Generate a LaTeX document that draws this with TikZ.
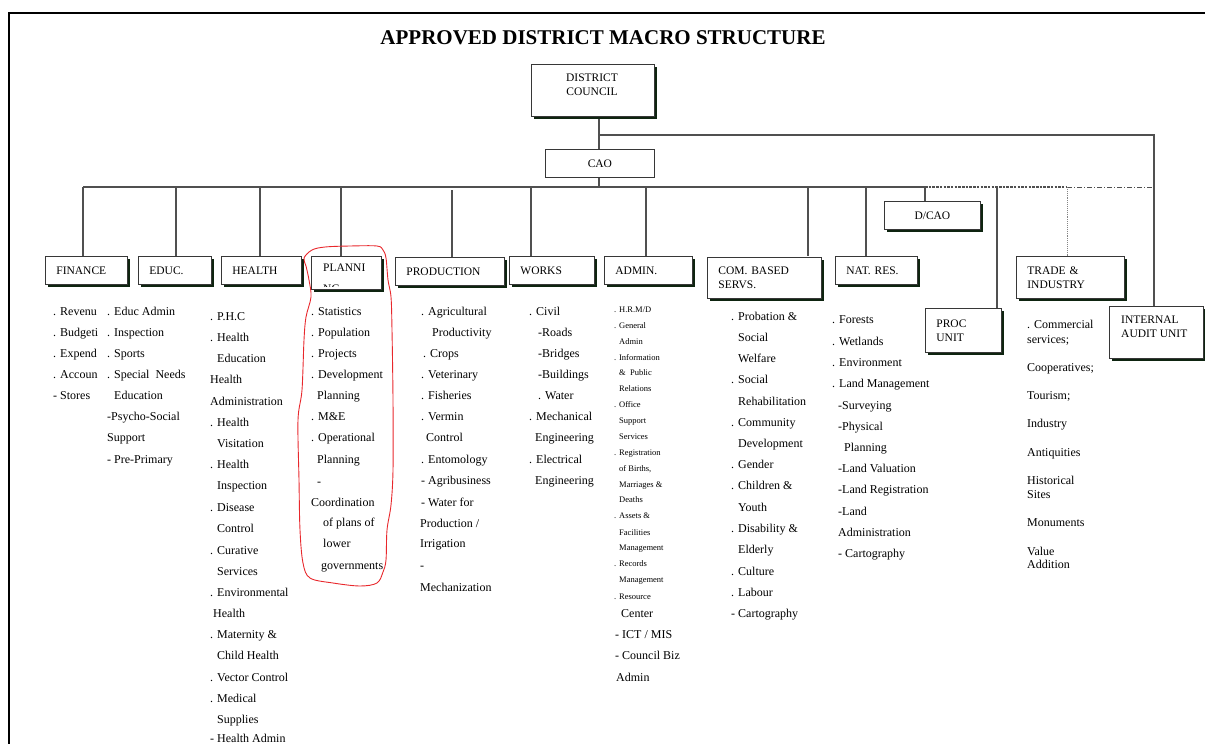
\documentclass[tikz,border=0pt]{standalone}
\usepackage{fontspec}
\setmainfont{Liberation Serif}
\usetikzlibrary{shadows}
\definecolor{shade}{RGB}{14,36,16}
\definecolor{wirecol}{RGB}{80,80,80}
\definecolor{boxline}{RGB}{55,55,55}
\definecolor{pen}{RGB}{232,40,44}
\begin{document}
\begin{tikzpicture}[x=1pt,y=-1pt,
  box/.style={draw=boxline, fill=white, line width=0.8pt, inner xsep=11pt, inner ysep=0pt,
    anchor=north west, align=left, font=\fontsize{11.5}{14}\selectfont,
    drop shadow={shadow xshift=3pt, shadow yshift=-3pt, fill=shade, opacity=1}},
  flatbox/.style={draw=boxline, fill=white, line width=0.8pt, inner sep=0pt,
    anchor=north west, align=center, font=\fontsize{11.5}{14}\selectfont},
  boxlabel/.style={inner sep=0pt, align=left, font=\fontsize{11.5}{14}\selectfont},
  wire/.style={draw=wirecol, line width=1.1pt},
  item/.style={inner sep=0pt, anchor=base west, font=\fontsize{12}{14}\selectfont},
  smallitem/.style={inner sep=0pt, anchor=base west, font=\fontsize{8.5}{10}\selectfont},
]
\useasboundingbox (0,0) rectangle (1205,744);

% page frame
\draw[line width=2pt] (1205,13) -- (9,13) -- (9,744);

% heading
\node[font=\fontsize{21}{25}\selectfont\bfseries] (title) at (603,38) {APPROVED DISTRICT MACRO STRUCTURE};

% junction points
\coordinate (tj) at (599,135);
\coordinate (tr) at (1154,135);
\coordinate (bL) at (83,187);
\coordinate (bEdu) at (176,187);
\coordinate (bHea) at (260,187);
\coordinate (bPla) at (341,187);
\coordinate (bPro) at (452,190);
\coordinate (bWor) at (531,187);
\coordinate (bAdm) at (646,187);
\coordinate (bCom) at (808,187);
\coordinate (bNat) at (866,187);
\coordinate (bDca) at (925,187);
\coordinate (bPrc) at (997,187);
\coordinate (bTra) at (1067,187);
\coordinate (bR) at (1154,187);

% connectors
\draw[wire] (tj) -- (tr) -- (1154,306);
\draw[wire] (599,116) -- (599,149);
\draw[wire] (599,177) -- (599,187);
\draw[wire] (bL) -- (bDca);
\draw[wire, dash pattern=on 2.5pt off 1.2pt] (bDca) -- (bTra);
\draw[wire, line width=0.9pt, dash pattern=on 5pt off 2pt on 1pt off 2pt] (bTra) -- (bR);
\draw[draw=wirecol!70, line width=0.9pt, densely dotted] (bTra) -- (1067,256);
\foreach \c in {bL,bEdu,bHea,bPla,bWor,bAdm,bCom,bNat}
  \draw[wire] (\c) -- ++(0,69);
\draw[wire] (bPro) -- (452,257);
\draw[wire] (bDca) -- (925,201);
\draw[wire] (bPrc) -- (997,308);

% top of the chart
\node[box, minimum width=123pt, minimum height=52pt, text width=101pt] (dc) at (531,64) {};
\node[boxlabel, align=center] (dcLabel) at (592,84.5) {DISTRICT\\COUNCIL};
\node[flatbox, minimum width=109pt, minimum height=28pt] (cao) at (545,149) {CAO};
\node[box, align=center, minimum width=96pt, minimum height=28pt, text width=74pt] (dcao) at (884,201) {D/CAO};

% departments
\node[box, minimum width=82pt, minimum height=28pt, text width=60pt] (fin) at (45,256) {FINANCE};
\node[box, minimum width=73pt, minimum height=28pt, text width=51pt] (edu) at (138,256) {EDUC.};
\node[box, minimum width=80pt, minimum height=28pt, text width=58pt] (hea) at (221,256) {HEALTH};
\node[box, minimum width=70pt, minimum height=33pt, text width=48pt] (pla) at (311,256) {};
\node[boxlabel, anchor=west] (plaLabel) at (323,268) {PLANNI};
\begin{scope}
  \clip (312,257) rectangle (380,286);
  \node[boxlabel, anchor=base west] (plaRest) at (323,292) {NG};
\end{scope}
\node[box, minimum width=109pt, minimum height=28pt, text width=87pt] (pro) at (395,257) {PRODUCTION};
\node[box, minimum width=85pt, minimum height=28pt, text width=63pt] (wor) at (509,256) {WORKS};
\node[box, minimum width=88pt, minimum height=28pt, text width=66pt] (adm) at (604,256) {ADMIN.};
\node[box, minimum width=114pt, minimum height=41pt, text width=92pt] (com) at (707,257) {COM. BASED\\SERVS.};
\node[box, minimum width=82pt, minimum height=28pt, text width=60pt] (nat) at (835,256) {NAT. RES.};
\node[box, minimum width=108pt, minimum height=42pt, text width=86pt] (tra) at (1016,256) {TRADE \&\\INDUSTRY};
\node[box, minimum width=76pt, minimum height=44pt, text width=54pt] (prc) at (925,308) {PROC\\UNIT};
\node[box, minimum width=94pt, minimum height=52pt, text width=72pt] (aud) at (1109,306) {};
\node[boxlabel, anchor=west] (audLabel) at (1121,327) {INTERNAL\\AUDIT UNIT};

% hand-drawn ring round the planning column
\draw[pen, line width=0.9pt] plot[smooth cycle, tension=0.55] coordinates {
  (304,258) (312,250) (325,247) (350,246) (377,246) (383,250) (386,258) (388,280)
  (391,297) (392,330) (393,400) (393,470) (391,505) (387,530) (386,560) (383,572)
  (377,583) (360,586) (333,583) (310,578) (303,563) (300,530) (299,480) (298,420)
  (302,390) (304,340) (306,317) (311,297) (309,280) (306,266)};

% finance duties
\foreach \x/\y/\t [count=\i] in {53/311/{. Revenu}, 53/332/{. Budgeti}, 53/353/{. Expend},
    53/374/{. Accoun}, 53/395/{- Stores}}
  \node[item] (fin-\i) at ({\x},{\y+4}) {\t};

% education duties
\foreach \x/\y/\t [count=\i] in {107/311/{. Educ Admin}, 107/332/{. Inspection}, 107/353/{. Sports},
    107/374/{. Special~~Needs}, 114/395/{Education}, 107/416/{-Psycho-Social}, 107/437/{Support},
    107/459/{- Pre-Primary}}
  \node[item] (edu-\i) at ({\x},{\y+4}) {\t};

% health duties
\foreach \x/\y/\t [count=\i] in {210/316/{. P.H.C}, 210/337/{. Health}, 217/358/{Education},
    210/379/{Health}, 210/401/{Administration}, 210/422/{. Health}, 217/443/{Visitation},
    210/464/{. Health}, 217/485/{Inspection}, 210/507/{. Disease}, 217/528/{Control},
    210/550/{. Curative}, 217/571/{Services}, 210/592/{. Environmental}, 213/613/{Health},
    210/634/{. Maternity \&}, 217/655/{Child Health}, 210/677/{. Vector Control},
    210/698/{. Medical}, 217/719/{Supplies}, 210/738/{- Health Admin}}
  \node[item] (hea-\i) at ({\x},{\y+4}) {\t};

% planning duties
\foreach \x/\y/\t [count=\i] in {311/311/{. Statistics}, 311/332/{. Population}, 311/353/{. Projects},
    311/374/{. Development}, 317/395/{Planning}, 311/416/{. M\&E}, 311/437/{. Operational},
    317/459/{Planning}, 317/481/{-}, 311/502/{Coordination}, 323/522/{of plans of},
    323/543/{lower}, 321/565/{governments}}
  \node[item] (pla-\i) at ({\x},{\y+4}) {\t};

% production duties
\foreach \x/\y/\t [count=\i] in {421/311/{. Agricultural}, 432/332/{Productivity}, 423/353/{. Crops},
    421/374/{. Veterinary}, 421/395/{. Fisheries}, 421/416/{. Vermin}, 426/437/{Control},
    421/459/{. Entomology}, 421/480/{- Agribusiness}, 421/502/{- Water for},
    420/523/{Production /}, 420/543/{Irrigation}, 420/565/{-}, 420/587/{Mechanization}}
  \node[item] (pro-\i) at ({\x},{\y+4}) {\t};

% works duties
\foreach \x/\y/\t [count=\i] in {529/311/{. Civil}, 538/332/{-Roads}, 538/353/{-Bridges},
    538/374/{-Buildings}, 538/395/{. Water}, 529/416/{. Mechanical}, 535/437/{Engineering},
    529/459/{. Electrical}, 535/480/{Engineering}}
  \node[item] (wor-\i) at ({\x},{\y+4}) {\t};

% administration duties
\foreach \x/\y/\t [count=\i] in {614/309/{. H.R.M/D}, 614/325/{. General}, 619/341/{Admin},
    614/357/{. Information}, 619/372/{\&~~Public}, 619/388/{Relations}, 614/404/{. Office},
    619/420/{Support}, 619/436/{Services}, 614/452/{. Registration}, 619/468/{of Births,},
    619/484/{Marriages \&}, 619/499/{Deaths}, 614/515/{. Assets \&}, 619/532/{Facilities},
    619/547/{Management}, 614/563/{. Records}, 619/579/{Management}, 614/596/{. Resource}}
  \node[smallitem] (adm-\i) at ({\x},{\y+3}) {\t};
\foreach \x/\y/\t [count=\i] in {621/613/{Center}, 615/634/{- ICT / MIS}, 615/655/{- Council Biz},
    616/677/{Admin}}
  \node[item] (admb-\i) at ({\x},{\y+4}) {\t};

% community based services duties
\foreach \x/\y/\t [count=\i] in {731/316/{. Probation \&}, 738/337/{Social}, 738/358/{Welfare},
    731/379/{. Social}, 738/401/{Rehabilitation}, 731/422/{. Community}, 738/443/{Development},
    731/464/{. Gender}, 731/485/{. Children \&}, 738/507/{Youth}, 731/528/{. Disability \&},
    738/549/{Elderly}, 731/571/{. Culture}, 731/592/{. Labour}, 731/613/{- Cartography}}
  \node[item] (com-\i) at ({\x},{\y+4}) {\t};

% natural resources duties
\foreach \x/\y/\t [count=\i] in {832/319/{. Forests}, 832/341/{. Wetlands}, 832/362/{. Environment},
    832/383/{. Land Management}, 838/405/{-Surveying}, 838/426/{-Physical}, 844/447/{Planning},
    838/468/{-Land Valuation}, 838/489/{-Land Registration}, 838/511/{-Land},
    838/532/{Administration}, 838/553/{- Cartography}}
  \node[item] (nat-\i) at ({\x},{\y+4}) {\t};

% trade and industry duties
\foreach \x/\y/\t [count=\i] in {1027/324/{. Commercial}, 1027/339/{services;}, 1027/367/{Cooperatives;},
    1027/395/{Tourism;}, 1027/423/{Industry}, 1027/452/{Antiquities}, 1027/480/{Historical},
    1027/494/{Sites}, 1027/522/{Monuments}, 1027/551/{Value}, 1027/564/{Addition}}
  \node[item] (tra-\i) at ({\x},{\y+4}) {\t};
\end{tikzpicture}
\end{document}
